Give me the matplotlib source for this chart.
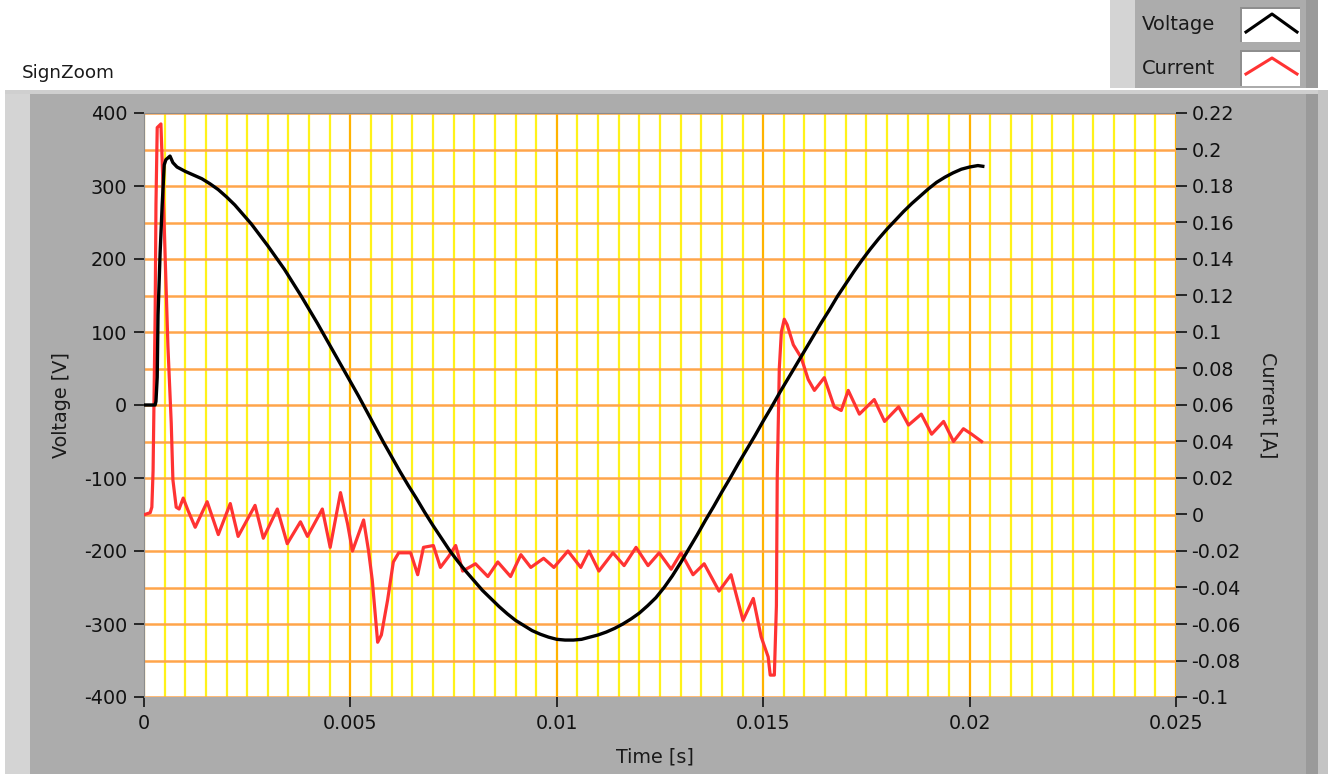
import matplotlib
matplotlib.use('Agg')
import matplotlib.pyplot as plt
from matplotlib.patches import Rectangle
from matplotlib.lines import Line2D
from matplotlib.ticker import MultipleLocator, FuncFormatter

# --- readings ---
time_v = [0.0, 0.00027, 0.00029, 0.00032, 0.00034, 0.00039, 0.00044, 0.00049,
          0.00053, 0.00063, 0.00070, 0.00080, 0.00100, 0.00120, 0.00140, 0.00160,
          0.00180, 0.00200, 0.00220, 0.00240, 0.00260, 0.00280, 0.00300, 0.00320,
          0.00340, 0.00360, 0.00380, 0.00400, 0.00420, 0.00440, 0.00460, 0.00480,
          0.00500, 0.00520, 0.00540, 0.00560, 0.00580, 0.00600, 0.00620, 0.00640,
          0.00660, 0.00680, 0.00700, 0.00720, 0.00740, 0.00760, 0.00780, 0.00800,
          0.00820, 0.00840, 0.00860, 0.00880, 0.00900, 0.00920, 0.00940, 0.00960,
          0.00980, 0.01000, 0.01020, 0.01040, 0.01060, 0.01080, 0.01100, 0.01120,
          0.01140, 0.01160, 0.01180, 0.01200, 0.01220, 0.01240, 0.01260, 0.01280,
          0.01300, 0.01320, 0.01340, 0.01360, 0.01380, 0.01400, 0.01420, 0.01440,
          0.01460, 0.01480, 0.01500, 0.01520, 0.01540, 0.01560, 0.01580, 0.01600,
          0.01620, 0.01640, 0.01660, 0.01680, 0.01700, 0.01720, 0.01740, 0.01760,
          0.01780, 0.01800, 0.01820, 0.01840, 0.01860, 0.01880, 0.01900, 0.01920,
          0.01940, 0.01960, 0.01980, 0.02000, 0.02020, 0.02032]
voltage = [0, 0, 5, 38, 123, 208, 274, 329,
           336, 341, 332, 326, 320, 315, 310, 303,
           295, 285, 274, 261, 248, 233, 218, 202,
           186, 168, 150, 131, 112, 92, 72, 52,
           32, 12, -9, -30, -51, -71, -91, -110,
           -128, -147, -165, -182, -199, -214, -228, -241,
           -254, -265, -276, -286, -295, -302, -309, -314,
           -318, -321, -322, -322, -321, -318, -315, -311,
           -306, -300, -293, -285, -275, -264, -250, -234,
           -216, -197, -178, -158, -139, -119, -100, -80,
           -61, -42, -22, -3, 17, 36, 55, 74,
           93, 112, 130, 149, 166, 183, 199, 214,
           228, 241, 253, 265, 276, 286, 296, 305,
           312, 318, 323, 326, 328, 327]

time_i = [0.00002, 0.00015, 0.00019, 0.00022, 0.00027, 0.00029, 0.00032, 0.00041,
          0.00046, 0.00051, 0.00058, 0.00066, 0.00070, 0.00078, 0.00085, 0.00095,
          0.00107, 0.00124, 0.00153, 0.00180, 0.00209, 0.00228, 0.00269, 0.00289,
          0.00323, 0.00347, 0.00379, 0.00396, 0.00432, 0.00451, 0.00476, 0.00493,
          0.00505, 0.00532, 0.00544, 0.00553, 0.00566, 0.00575, 0.00590, 0.00604,
          0.00617, 0.00646, 0.00663, 0.00677, 0.00701, 0.00718, 0.00738, 0.00755,
          0.00772, 0.00803, 0.00833, 0.00857, 0.00888, 0.00913, 0.00937, 0.00968,
          0.00993, 0.01027, 0.01058, 0.01078, 0.01102, 0.01136, 0.01163, 0.01192,
          0.01221, 0.01248, 0.01277, 0.01301, 0.01330, 0.01357, 0.01393, 0.01422,
          0.01451, 0.01476, 0.01495, 0.01512, 0.01517, 0.01527, 0.01532, 0.01534,
          0.01539, 0.01544, 0.01551, 0.01558, 0.01573, 0.01592, 0.01609, 0.01624,
          0.01648, 0.01672, 0.01689, 0.01706, 0.01733, 0.01769, 0.01794, 0.01828,
          0.01852, 0.01883, 0.01908, 0.01937, 0.01961, 0.01985, 0.02005, 0.02029]
current = [0.000, 0.001, 0.004, 0.024, 0.110, 0.170, 0.212, 0.214,
           0.180, 0.143, 0.092, 0.050, 0.019, 0.004, 0.003, 0.009,
           0.002, -0.007, 0.007, -0.011, 0.006, -0.012, 0.005, -0.013,
           0.003, -0.016, -0.004, -0.012, 0.003, -0.018, 0.012, -0.005,
           -0.020, -0.003, -0.020, -0.036, -0.070, -0.066, -0.047, -0.026,
           -0.021, -0.021, -0.033, -0.018, -0.017, -0.029, -0.023, -0.017,
           -0.031, -0.027, -0.034, -0.026, -0.034, -0.022, -0.029, -0.024,
           -0.029, -0.020, -0.029, -0.020, -0.031, -0.021, -0.028, -0.018,
           -0.028, -0.021, -0.030, -0.021, -0.033, -0.027, -0.042, -0.033,
           -0.058, -0.046, -0.067, -0.078, -0.088, -0.088, -0.050, 0.020,
           0.080, 0.100, 0.107, 0.104, 0.093, 0.086, 0.074, 0.068,
           0.075, 0.059, 0.057, 0.068, 0.055, 0.063, 0.051, 0.059,
           0.049, 0.055, 0.044, 0.051, 0.040, 0.047, 0.044, 0.040]

W, H = 1328, 774
plt.rcParams['axes.unicode_minus'] = False
plt.rcParams['font.family'] = 'DejaVu Sans'

fig = plt.figure(figsize=(W / 100, H / 100), dpi=100)
fig.patch.set_facecolor('white')


def box(x, y, w, h, color, z=-10):
    fig.add_artist(Rectangle((x / W, 1 - (y + h) / H), w / W, h / H,
                             transform=fig.transFigure, facecolor=color,
                             edgecolor='none', zorder=z))


# panel frame (LabVIEW style)
box(5, 90, 1323, 684, '#ACACAC')
box(5, 90, 25, 684, '#D4D4D4')
box(5, 90, 1313, 4, '#CFCFCF')
box(1306, 94, 12, 680, '#9A9A9A')
box(1318, 90, 10, 684, '#C4C4C4')

# legend block
box(1110, 0, 208, 88, '#ACACAC')
box(1110, 0, 25, 88, '#D4D4D4')
box(1306, 0, 12, 88, '#9A9A9A')
box(1240, 7, 60, 35, '#8E8E8E', z=-9)
box(1240, 50, 60, 36, '#8E8E8E', z=-9)
box(1242, 9, 58, 33, 'white', z=-8)
box(1242, 52, 58, 34, 'white', z=-8)
for xs, ys, col in [([1246, 1272, 1297], [32, 14, 32], 'black'),
                    ([1246, 1272, 1297], [74, 58, 74], '#FF3333')]:
    fig.add_artist(Line2D([v / W for v in xs], [1 - v / H for v in ys],
                          transform=fig.transFigure, color=col, lw=2.2))
fig.text(1142 / W, 1 - 25 / H, 'Voltage', fontsize=14, va='center', color='#1a1a1a')
fig.text(1142 / W, 1 - 68 / H, 'Current', fontsize=14, va='center', color='#1a1a1a')
fig.text(22 / W, 1 - 73 / H, 'SignZoom', fontsize=13.2, va='center', color='#1a1a1a')

ax = fig.add_axes([144 / W, 1 - 697 / H, (1176 - 144) / W, (697 - 113) / H])
ax.set_facecolor('white')
ax.set_xlim(0, 0.025)
ax.set_ylim(-400, 400)

ax.xaxis.set_major_locator(MultipleLocator(0.005))
ax.xaxis.set_minor_locator(MultipleLocator(0.0005))
ax.yaxis.set_major_locator(MultipleLocator(100))
ax.yaxis.set_minor_locator(MultipleLocator(50))
fmt = FuncFormatter(lambda v, p: f'{round(v, 4) + 0:g}')
ax.xaxis.set_major_formatter(fmt)
ax.yaxis.set_major_formatter(fmt)

ax.set_axisbelow(True)
ax.grid(which='minor', axis='x', color='#FFF21A', lw=1.6)
ax.grid(which='major', axis='x', color='#FFB300', lw=1.6)
ax.grid(which='both', axis='y', color='#FFA54A', lw=1.8)

ax.tick_params(which='minor', length=0)
ax.tick_params(which='major', direction='out', length=7, width=1.2,
               labelsize=13.8, colors='#111111', pad=5)
for s in ['right', 'bottom']:
    ax.spines[s].set_visible(False)
for s in ['left', 'top']:
    ax.spines[s].set_color('#8C8C8C')

ax.set_ylabel('Voltage [V]', fontsize=13.8, va='center', color='#1a1a1a')
ax.yaxis.set_label_coords(-0.0795, 0.5)
ax.set_xlabel('Time [s]', fontsize=13.8, va='center', color='#1a1a1a')
ax.xaxis.set_label_coords(0.495, -0.103)

# current on the right scale
ax2 = ax.twinx()
ax2.set_ylim(-0.1, 0.22)
ax2.yaxis.set_major_locator(MultipleLocator(0.02))
ax2.yaxis.set_major_formatter(fmt)
ax2.tick_params(direction='out', length=8, width=1.2, labelsize=13.8,
                colors='#111111', pad=3)
for s in ax2.spines.values():
    s.set_visible(False)
ax2.plot(time_i, current, color='#FF3333', lw=2.3)
ax2.set_ylabel('Current [A]', fontsize=13.8, rotation=270, va='center', color='#1a1a1a')
ax2.yaxis.set_label_coords(1.089, 0.5)

# voltage drawn last so it sits on top
ax3 = ax.twinx()
ax3.set_ylim(-400, 400)
ax3.axis('off')
ax3.plot(time_v, voltage, color='black', lw=2.4)

fig.savefig('out.png', dpi=100)
